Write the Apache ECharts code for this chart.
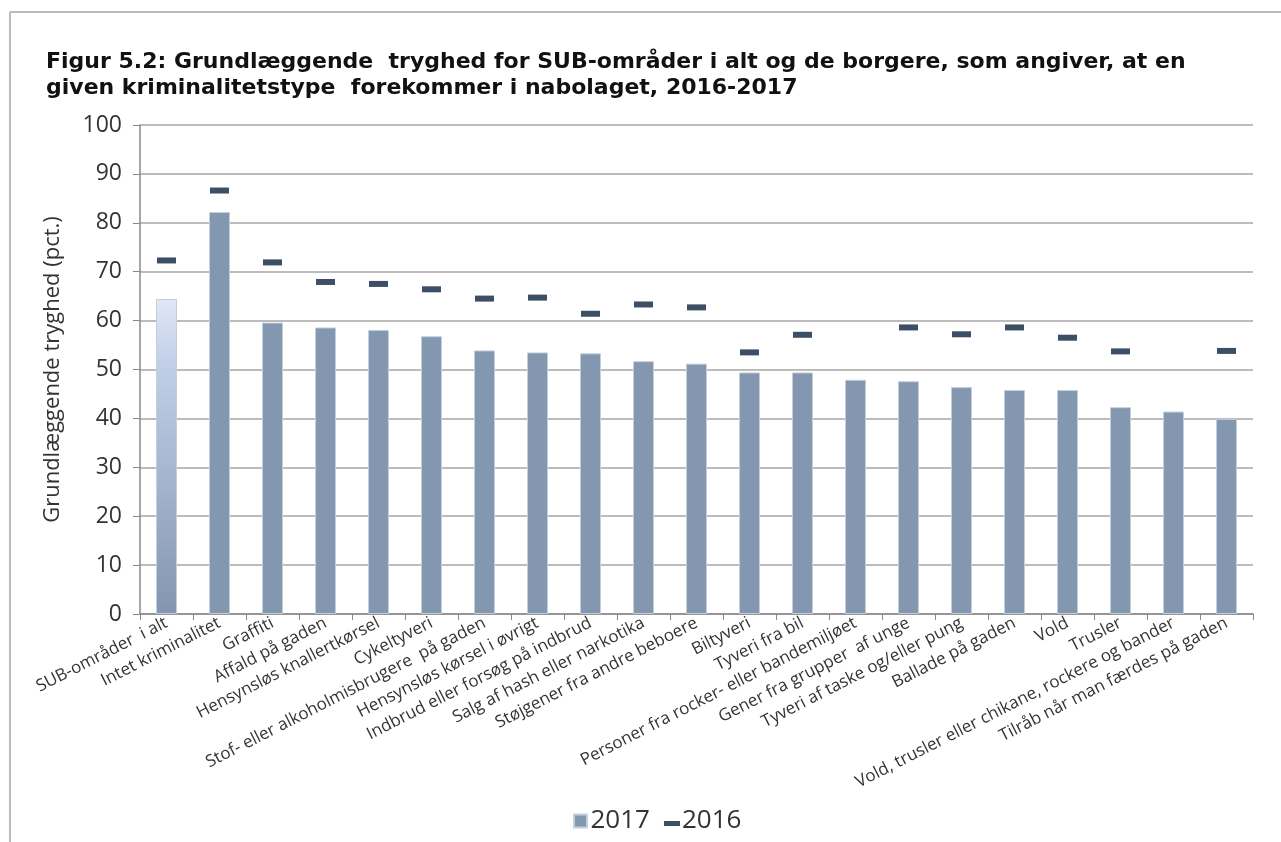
<!DOCTYPE html>
<html>
<head>
<meta charset="utf-8">
<script src="https://cdn.jsdelivr.net/npm/echarts@6/dist/echarts.min.js"></script>
<style>
  html, body { margin: 0; padding: 0; background: #fff; }
  #chart { width: 1281px; height: 842px; }
</style>
</head>
<body>
<div id="chart"></div>
<script>
// kategorier og værdier
var categories = [
    'SUB-områder  i alt', 'Intet kriminalitet', 'Graffiti', 'Affald på gaden',
    'Hensynsløs knallertkørsel', 'Cykeltyveri', 'Stof- eller alkoholmisbrugere  på gaden',
    'Hensynsløs kørsel i øvrigt', 'Indbrud eller forsøg på indbrud', 'Salg af hash eller narkotika',
    'Støjgener fra andre beboere', 'Biltyveri', 'Tyveri fra bil',
    'Personer fra rocker- eller bandemiljøet', 'Gener fra grupper  af unge',
    'Tyveri af taske og/eller pung', 'Ballade på gaden', 'Vold', 'Trusler',
    'Vold, trusler eller chikane, rockere og bander', 'Tilråb når man færdes på gaden'
];
var values2017 = [64.4, 82.2, 59.6, 58.6, 58.1, 56.8, 53.9, 53.5, 53.3, 51.7, 51.2,
                  49.4, 49.4, 47.9, 47.6, 46.4, 45.8, 45.8, 42.3, 41.4, 39.9];
var values2016 = [72.3, 86.6, 71.9, 67.9, 67.5, 66.4, 64.5, 64.7, 61.4, 63.3, 62.7,
                  53.5, 57.1, null, 58.6, 57.2, 58.6, 56.5, 53.7, null, 53.8];
var yTicks = { min: 0, max: 100, interval: 10 };

var chart = echarts.init(document.getElementById('chart'));

// første søjle har gradient (SUB-områder i alt)
var barData = values2017.map(function (v, i) {
    if (i === 0) {
        return {
            value: v,
            itemStyle: {
                color: new echarts.graphic.LinearGradient(0, 0, 0, 1, [
                    { offset: 0, color: '#e1e8f6' },
                    { offset: 0.2, color: '#c2cfe9' },
                    { offset: 1, color: '#8395b0' }
                ])
            }
        };
    }
    return v;
});

var option = {
    backgroundColor: '#fff',
    animation: false,
    textStyle: { fontFamily: 'Open Sans' },
    title: {
        text: 'Figur 5.2: Grundlæggende  tryghed for SUB-områder i alt og de borgere, som angiver, at en\ngiven kriminalitetstype  forekommer i nabolaget, 2016-2017',
        left: 41,
        top: 44,
        textStyle: {
            fontFamily: 'DejaVu Sans',
            fontWeight: 'bold',
            fontSize: 22,
            lineHeight: 26,
            color: '#111'
        }
    },
    graphic: [
        { type: 'line', shape: { x1: 10, y1: 12, x2: 1281, y2: 12 }, style: { stroke: '#a6a6a6', lineWidth: 1.5 } },
        { type: 'line', shape: { x1: 10, y1: 12, x2: 10, y2: 842 }, style: { stroke: '#a6a6a6', lineWidth: 1.5 } }
    ],
    legend: {
        bottom: 3,
        left: 568,
        itemGap: 14,
        itemWidth: 16,
        itemHeight: 13,
        textStyle: { fontSize: 26, color: '#333', padding: [0, 0, 0, -3] },
        data: [
            { name: '2017', icon: 'path://M0,0H13V13H0Z' },
            { name: '2016', icon: 'path://M0,0M0,5H16V10H0Z' }
        ]
    },
    grid: { left: 140, right: 28, top: 125, bottom: 228 },
    xAxis: {
        type: 'category',
        data: categories,
        axisLine: { lineStyle: { color: '#888', width: 1.5 } },
        axisTick: { show: true, length: 6, lineStyle: { color: '#888' } },
        axisLabel: {
            rotate: 27,
            fontSize: 17,
            color: '#333',
            margin: 8,
            interval: 0
        }
    },
    yAxis: {
        type: 'value',
        min: yTicks.min,
        max: yTicks.max,
        interval: yTicks.interval,
        name: 'Grundlæggende tryghed (pct.)',
        nameLocation: 'middle',
        nameGap: 76,
        nameTextStyle: { fontSize: 22, color: '#333' },
        axisLine: { show: true, lineStyle: { color: '#888', width: 1.5 } },
        axisTick: { show: true, length: 7, lineStyle: { color: '#888' } },
        axisLabel: { fontSize: 23, color: '#333', margin: 18 },
        splitLine: { lineStyle: { color: '#a6a6a6', width: 1.5 } }
    },
    series: [
        {
            name: '2017',
            type: 'bar',
            barWidth: 21,
            data: barData,
            itemStyle: { color: '#8497b0', borderColor: '#c5cfdc', borderWidth: 1 }
        },
        {
            name: '2016',
            type: 'scatter',
            symbol: 'rect',
            symbolSize: [19, 6],
            data: values2016,
            itemStyle: { color: '#0c2340' }
        }
    ]
};
chart.setOption(option);
</script>
</body>
</html>
